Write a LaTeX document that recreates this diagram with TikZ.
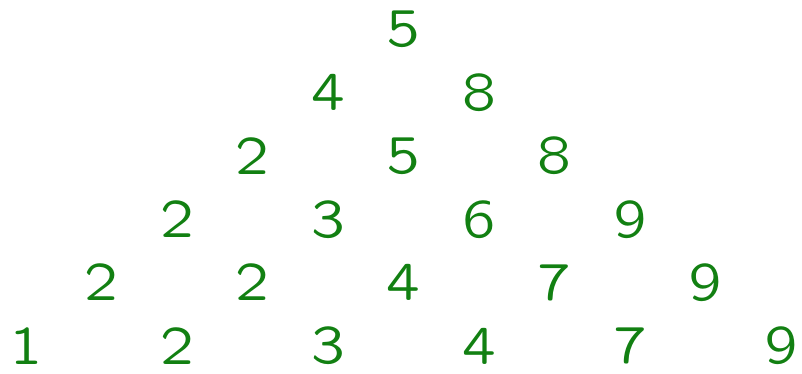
\documentclass[tikz,border=0pt]{standalone}
\usepackage{fontspec}
\usepackage{xcolor}
\usepackage{tikz}
\newfontfamily\quotsans{lmsansquot8-regular.otf}
\definecolor{numgreen}{HTML}{128012}

\begin{document}
\begin{tikzpicture}[
  x=37.75pt, y=31.7pt,
  num/.style={inner sep=0pt, text=numgreen, font=\quotsans\fontsize{27}{32}\selectfont}
]
  \useasboundingbox (-13pt,-14pt) rectangle (388pt,173pt);
  % top row
  \node[num] (r1a) at (5,5) {5};
  \node[num] (r2a) at (4,4) {4};
  \node[num] (r2b) at (6,4) {8};
  \node[num] (r3a) at (3,3) {2};
  \node[num] (r3b) at (5,3) {5};
  \node[num] (r3c) at (7,3) {8};
  \node[num] (r4a) at (2,2) {2};
  \node[num] (r4b) at (4,2) {3};
  \node[num] (r4c) at (6,2) {6};
  \node[num] (r4d) at (8,2) {9};
  \node[num] (r5a) at (1,1) {2};
  \node[num] (r5b) at (3,1) {2};
  \node[num] (r5c) at (5,1) {4};
  \node[num] (r5d) at (7,1) {7};
  \node[num] (r5e) at (9,1) {9};
  % bottom row
  \node[num] (r6a) at (0,0) {1};
  \node[num] (r6b) at (2,0) {2};
  \node[num] (r6c) at (4,0) {3};
  \node[num] (r6d) at (6,0) {4};
  \node[num] (r6e) at (8,0) {7};
  \node[num] (r6f) at (10,0) {9};
\end{tikzpicture}
\end{document}
